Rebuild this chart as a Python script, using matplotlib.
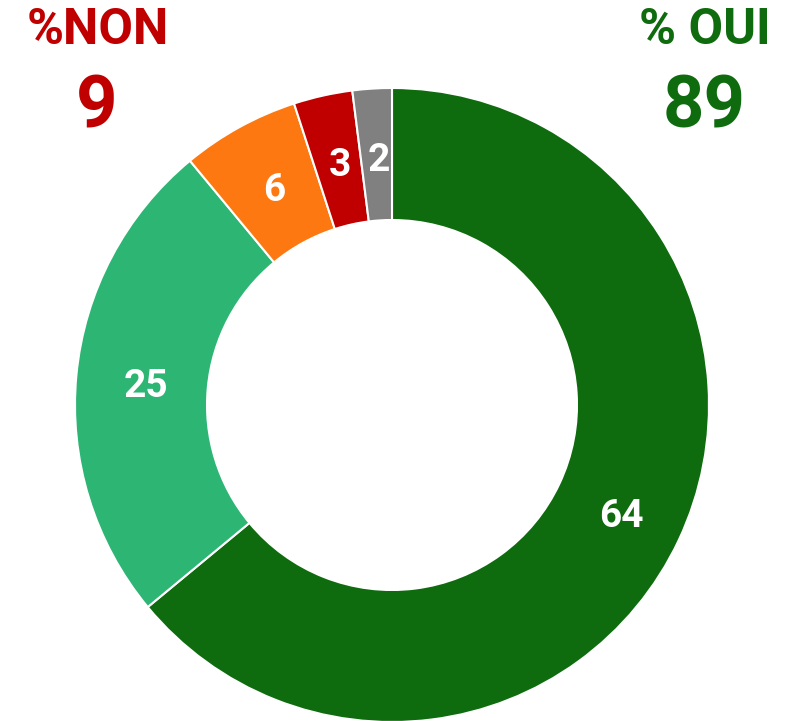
import matplotlib.pyplot as plt

# data (clockwise from top)
values = [64, 25, 6, 3, 2]
colors = ['#0e6b0e', '#2db574', '#fd7811', '#c00000', '#808080']
oui = values[0] + values[1]
non = values[2] + values[3]

plt.rcParams['font.family'] = ['Roboto', 'DejaVu Sans']

fig = plt.figure(figsize=(7.97, 7.21), dpi=100)
ax = fig.add_axes([0, 0, 1, 1])

wedges, texts, autotexts = ax.pie(
    values, colors=colors, startangle=90, counterclock=False,
    center=(392, 316), radius=317,
    wedgeprops=dict(width=132, edgecolor='white', linewidth=1.5),
    autopct=lambda p: f'{p:.0f}', pctdistance=0.79,
    textprops=dict(color='white', fontsize=28, fontweight='bold'))
for t in autotexts:
    x, y = t.get_position()
    t.set_position((x + 3, y - 5))

ax.set_xlim(0, 797)
ax.set_ylim(0, 721)
ax.set_aspect('equal')
ax.axis('off')

# headers
ax.text(98, 691, '%NON', color='#c00000', fontsize=36, fontweight='bold', ha='center', va='center')
ax.text(97, 613, str(non), color='#c00000', fontsize=52, fontweight='bold', ha='center', va='center')
ax.text(705, 691, '% OUI', color='#0e6b0e', fontsize=36, fontweight='bold', ha='center', va='center')
ax.text(704, 613, str(oui), color='#0e6b0e', fontsize=52, fontweight='bold', ha='center', va='center')

fig.savefig('out.png', dpi=100)
